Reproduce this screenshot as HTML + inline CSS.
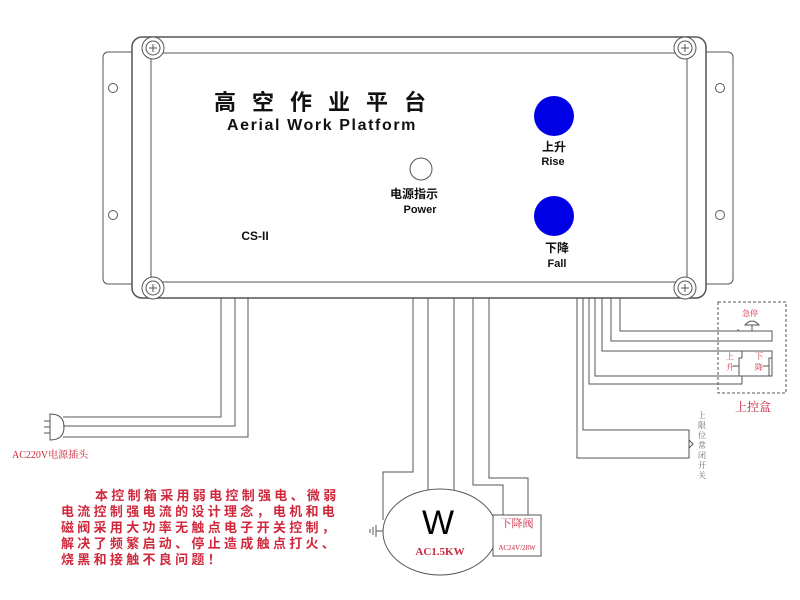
<!DOCTYPE html>
<html><head><meta charset="utf-8"><style>
html,body{margin:0;padding:0;background:#fff;}
svg{display:block;}
text{font-family:"Liberation Sans","Noto Sans CJK SC",sans-serif;}
.s{font-family:"Liberation Serif","Noto Serif CJK SC",serif;}
</style></head><body>
<svg width="800" height="600" viewBox="0 0 800 600" xmlns="http://www.w3.org/2000/svg">
<g fill="none" stroke="#555" stroke-width="1">
<rect x="103" y="52" width="630" height="232" rx="5"/>
<circle cx="113" cy="88" r="4.5"/><circle cx="113" cy="215" r="4.5"/>
<circle cx="720" cy="88" r="4.5"/><circle cx="720" cy="215" r="4.5"/>
<rect x="132" y="37" width="574" height="261" rx="10" fill="#fff" stroke-width="1.5"/>
<rect x="151" y="53" width="536" height="229" rx="4"/>
<g fill="#fff">
<circle cx="153" cy="48" r="11"/><circle cx="153" cy="48" r="7"/>
<circle cx="685" cy="48" r="11"/><circle cx="685" cy="48" r="7"/>
<circle cx="153" cy="288" r="11"/><circle cx="153" cy="288" r="7"/>
<circle cx="685" cy="288" r="11"/><circle cx="685" cy="288" r="7"/>
</g>
<path d="M149 48h8M153 44v8M681 48h8M685 44v8M149 288h8M153 284v8M681 288h8M685 284v8"/>
<circle cx="421" cy="169" r="11"/>
<path d="M221 298V417H63M235 298V426H63M248 298V437H63"/>
<path d="M50 414q14 0 14 13q0 13-14 13z"/>
<path d="M44 421h6M44 427h6M44 433h6"/>
<path d="M413 298V472H383V520M428 298V490M454 298V490M473 298V485H503V515M489 298V478H528V515"/>
<ellipse cx="440" cy="532" rx="57" ry="43" fill="#fff"/>
<rect x="493" y="515" width="48" height="41" fill="#fff"/>
<path d="M383 531h-7M376 525v12M373 527v8M370 529v4"/>
<path d="M620 298V331H772V341H611V298"/>
<path d="M602 298V351H772V376H595V298"/>
<path d="M589 298V384H742V376"/>
<path d="M742 351V358M772 351V358"/>
<path d="M583 298V430H689V458H577V298"/>
<path d="M689 440l4 4l-4 4"/>
<path d="M738 331v-2M752 331v-6M745 325q7-8 14 0z"/>
<path d="M742 358h-3v18h3M739 366h-6M772 358h-3v18h3M769 366h-6"/>
<rect x="718" y="302" width="68" height="91" stroke-dasharray="3,2"/>
</g>
<g fill="#111" font-weight="bold" text-anchor="middle">
<text x="328" y="110" font-size="22" letter-spacing="16">高空作业平台</text>
<text x="322" y="130" font-size="16" letter-spacing="1.6">Aerial Work Platform</text>
<text x="414" y="198" font-size="12">电源指示</text>
<text x="420" y="213" font-size="11">Power</text>
<text x="255" y="240" font-size="12">CS-II</text>
<text x="554" y="151" font-size="12">上升</text>
<text x="553" y="165" font-size="11">Rise</text>
<text x="557" y="252" font-size="12">下降</text>
<text x="557" y="267" font-size="11">Fall</text>
</g>
<circle cx="554" cy="116" r="20" fill="#0000e6"/>
<circle cx="554" cy="216" r="20" fill="#0000e6"/>
<text x="438" y="534" font-size="34" text-anchor="middle" fill="#000">W</text>
<g fill="#c8283c" class="s">
<text x="440" y="555" font-size="11" text-anchor="middle" font-weight="bold" class="s">AC1.5KW</text>
<text x="517" y="527" font-size="11" text-anchor="middle" class="s">下降阀</text>
<text x="517" y="550" font-size="7" text-anchor="middle" class="s">AC24V/28W</text>
<text x="12" y="458" font-size="10" class="s">AC220V电源插头</text>
<text x="750" y="316" font-size="8" text-anchor="middle" class="s">急停</text>
<text x="730" y="359" font-size="8" text-anchor="middle" class="s">上</text>
<text x="730" y="370" font-size="8" text-anchor="middle" class="s">升</text>
<text x="759" y="359" font-size="8" text-anchor="middle" class="s">下</text>
<text x="759" y="370" font-size="8" text-anchor="middle" class="s">降</text>
<text x="753" y="411" font-size="12" text-anchor="middle" class="s">上控盒</text>
</g>
<g fill="#666" font-size="8" text-anchor="middle" class="s">
<text x="702" y="418" class="s">上</text><text x="702" y="428" class="s">限</text><text x="702" y="438" class="s">位</text><text x="702" y="448" class="s">常</text><text x="702" y="458" class="s">闭</text><text x="702" y="468" class="s">开</text><text x="702" y="478" class="s">关</text>
</g>
<g fill="#d0283c" font-size="13" font-weight="bold" letter-spacing="3.3">
<text x="95" y="500">本控制箱采用弱电控制强电、微弱</text>
<text x="61" y="516">电流控制强电流的设计理念，电机和电</text>
<text x="61" y="532">磁阀采用大功率无触点电子开关控制，</text>
<text x="61" y="548">解决了频繁启动、停止造成触点打火、</text>
<text x="61" y="564">烧黑和接触不良问题！</text>
</g>
</svg>
</body></html>
